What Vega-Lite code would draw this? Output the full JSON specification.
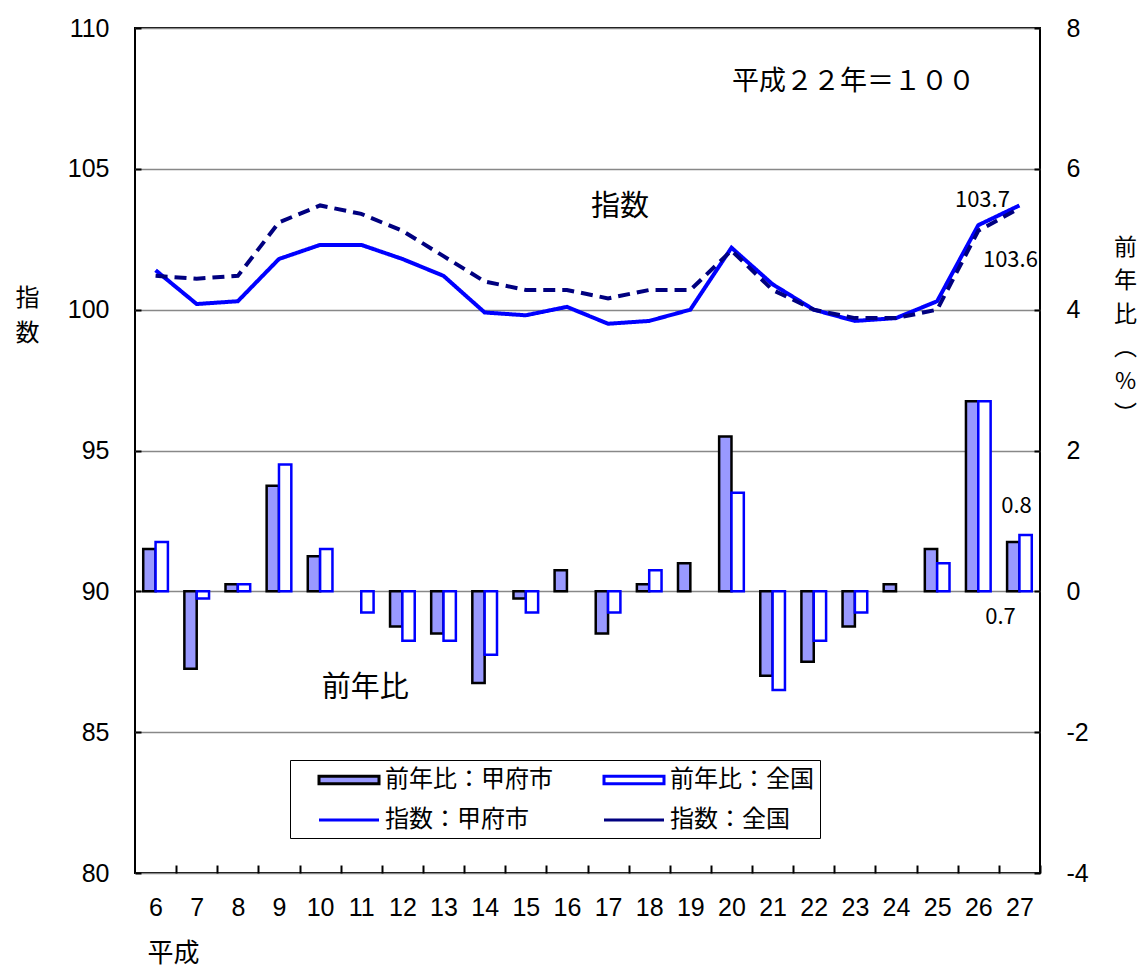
{
  "$schema": "https://vega.github.io/schema/vega-lite/v6.json",
  "width": 905,
  "height": 845,
  "autosize": {"type": "none"},
  "padding": {"left": 135, "top": 28, "right": 101, "bottom": 99},
  "background": "white",
  "config": {
    "view": {"stroke": "black", "strokeWidth": 2},
    "font": "Noto Sans CJK JP"
  },
  "datasets": {
    "pct": [
      {"cat": 6, "series": "前年比：甲府市", "pct": 0.6}, {"cat": 6, "series": "前年比：全国", "pct": 0.7},
      {"cat": 7, "series": "前年比：甲府市", "pct": -1.1}, {"cat": 7, "series": "前年比：全国", "pct": -0.1},
      {"cat": 8, "series": "前年比：甲府市", "pct": 0.1}, {"cat": 8, "series": "前年比：全国", "pct": 0.1},
      {"cat": 9, "series": "前年比：甲府市", "pct": 1.5}, {"cat": 9, "series": "前年比：全国", "pct": 1.8},
      {"cat": 10, "series": "前年比：甲府市", "pct": 0.5}, {"cat": 10, "series": "前年比：全国", "pct": 0.6},
      {"cat": 11, "series": "前年比：甲府市", "pct": 0.0}, {"cat": 11, "series": "前年比：全国", "pct": -0.3},
      {"cat": 12, "series": "前年比：甲府市", "pct": -0.5}, {"cat": 12, "series": "前年比：全国", "pct": -0.7},
      {"cat": 13, "series": "前年比：甲府市", "pct": -0.6}, {"cat": 13, "series": "前年比：全国", "pct": -0.7},
      {"cat": 14, "series": "前年比：甲府市", "pct": -1.3}, {"cat": 14, "series": "前年比：全国", "pct": -0.9},
      {"cat": 15, "series": "前年比：甲府市", "pct": -0.1}, {"cat": 15, "series": "前年比：全国", "pct": -0.3},
      {"cat": 16, "series": "前年比：甲府市", "pct": 0.3}, {"cat": 16, "series": "前年比：全国", "pct": 0.0},
      {"cat": 17, "series": "前年比：甲府市", "pct": -0.6}, {"cat": 17, "series": "前年比：全国", "pct": -0.3},
      {"cat": 18, "series": "前年比：甲府市", "pct": 0.1}, {"cat": 18, "series": "前年比：全国", "pct": 0.3},
      {"cat": 19, "series": "前年比：甲府市", "pct": 0.4}, {"cat": 19, "series": "前年比：全国", "pct": 0.0},
      {"cat": 20, "series": "前年比：甲府市", "pct": 2.2}, {"cat": 20, "series": "前年比：全国", "pct": 1.4},
      {"cat": 21, "series": "前年比：甲府市", "pct": -1.2}, {"cat": 21, "series": "前年比：全国", "pct": -1.4},
      {"cat": 22, "series": "前年比：甲府市", "pct": -1.0}, {"cat": 22, "series": "前年比：全国", "pct": -0.7},
      {"cat": 23, "series": "前年比：甲府市", "pct": -0.5}, {"cat": 23, "series": "前年比：全国", "pct": -0.3},
      {"cat": 24, "series": "前年比：甲府市", "pct": 0.1}, {"cat": 24, "series": "前年比：全国", "pct": 0.0},
      {"cat": 25, "series": "前年比：甲府市", "pct": 0.6}, {"cat": 25, "series": "前年比：全国", "pct": 0.4},
      {"cat": 26, "series": "前年比：甲府市", "pct": 2.7}, {"cat": 26, "series": "前年比：全国", "pct": 2.7},
      {"cat": 27, "series": "前年比：甲府市", "pct": 0.7}, {"cat": 27, "series": "前年比：全国", "pct": 0.8}
    ],
    "idx": [
      {"cat": 6, "series": "指数：甲府市", "idx": 101.4}, {"cat": 7, "series": "指数：甲府市", "idx": 100.2},
      {"cat": 8, "series": "指数：甲府市", "idx": 100.3}, {"cat": 9, "series": "指数：甲府市", "idx": 101.8},
      {"cat": 10, "series": "指数：甲府市", "idx": 102.3}, {"cat": 11, "series": "指数：甲府市", "idx": 102.3},
      {"cat": 12, "series": "指数：甲府市", "idx": 101.8}, {"cat": 13, "series": "指数：甲府市", "idx": 101.2},
      {"cat": 14, "series": "指数：甲府市", "idx": 99.9}, {"cat": 15, "series": "指数：甲府市", "idx": 99.8},
      {"cat": 16, "series": "指数：甲府市", "idx": 100.1}, {"cat": 17, "series": "指数：甲府市", "idx": 99.5},
      {"cat": 18, "series": "指数：甲府市", "idx": 99.6}, {"cat": 19, "series": "指数：甲府市", "idx": 100.0},
      {"cat": 20, "series": "指数：甲府市", "idx": 102.2}, {"cat": 21, "series": "指数：甲府市", "idx": 100.9},
      {"cat": 22, "series": "指数：甲府市", "idx": 100.0}, {"cat": 23, "series": "指数：甲府市", "idx": 99.6},
      {"cat": 24, "series": "指数：甲府市", "idx": 99.7}, {"cat": 25, "series": "指数：甲府市", "idx": 100.3},
      {"cat": 26, "series": "指数：甲府市", "idx": 103.0}, {"cat": 27, "series": "指数：甲府市", "idx": 103.7},
      {"cat": 6, "series": "指数：全国", "idx": 101.2}, {"cat": 7, "series": "指数：全国", "idx": 101.1},
      {"cat": 8, "series": "指数：全国", "idx": 101.2}, {"cat": 9, "series": "指数：全国", "idx": 103.1},
      {"cat": 10, "series": "指数：全国", "idx": 103.7}, {"cat": 11, "series": "指数：全国", "idx": 103.4},
      {"cat": 12, "series": "指数：全国", "idx": 102.8}, {"cat": 13, "series": "指数：全国", "idx": 101.9},
      {"cat": 14, "series": "指数：全国", "idx": 101.0}, {"cat": 15, "series": "指数：全国", "idx": 100.7},
      {"cat": 16, "series": "指数：全国", "idx": 100.7}, {"cat": 17, "series": "指数：全国", "idx": 100.4},
      {"cat": 18, "series": "指数：全国", "idx": 100.7}, {"cat": 19, "series": "指数：全国", "idx": 100.7},
      {"cat": 20, "series": "指数：全国", "idx": 102.1}, {"cat": 21, "series": "指数：全国", "idx": 100.7},
      {"cat": 22, "series": "指数：全国", "idx": 100.0}, {"cat": 23, "series": "指数：全国", "idx": 99.7},
      {"cat": 24, "series": "指数：全国", "idx": 99.7}, {"cat": 25, "series": "指数：全国", "idx": 100.0},
      {"cat": 26, "series": "指数：全国", "idx": 102.8}, {"cat": 27, "series": "指数：全国", "idx": 103.6}
    ]
  },
  "layer": [
    {
      "data": {"name": "pct"},
      "mark": {"type": "bar", "strokeWidth": 2.5},
      "encoding": {
        "x": {
          "field": "cat", "type": "ordinal", "title": "平成",
          "scale": {"domain": [6,7,8,9,10,11,12,13,14,15,16,17,18,19,20,21,22,23,24,25,26,27], "paddingInner": 0.4, "paddingOuter": 0.2},
          "axis": {
            "title": "平成", "titleFont": "Noto Sans CJK JP", "titleFontSize": 26, "titleFontWeight": "normal",
            "titleColor": "black", "titleX": 38, "titleY": 88, "titleAlign": "center", "titleBaseline": "middle",
            "labelFont": "Liberation Sans", "labelFontSize": 25, "labelColor": "black",
            "labelAngle": 0, "labelPadding": 22, "offset": -8,
            "tickBand": "center", "tickOffset": 20.57, "labelOffset": -20.57,
            "tickSize": 8, "tickWidth": 2, "tickColor": "black", "domain": false, "grid": false
          }
        },
        "xOffset": {"field": "series", "type": "nominal", "scale": {"domain": ["前年比：甲府市", "前年比：全国"], "padding": 0}},
        "y": {
          "field": "pct", "type": "quantitative",
          "scale": {"domain": [-4, 8], "nice": false},
          "axis": {
            "orient": "right", "values": [-4, -2, 0, 2, 4, 6, 8], "offset": -6,
            "labelExpr": "datum.value < 0 ? '-' + abs(datum.value) : '' + datum.value",
            "title": ["前", "年", "比", "︵", "%", "︶"], "titleAngle": 0, "titleX": 91, "titleY": 208,
            "titleAlign": "center", "titleBaseline": "top", "titleLineHeight": 33.5,
            "titleFont": "Noto Sans CJK JP", "titleFontSize": 23, "titleFontWeight": "normal", "titleColor": "black",
            "labelFont": "Liberation Sans", "labelFontSize": 25, "labelColor": "black",
            "labelPadding": 26, "tickSize": 6, "tickWidth": 2, "tickColor": "black",
            "domain": false, "grid": false
          }
        },
        "color": {
          "field": "series", "type": "nominal",
          "scale": {"domain": ["指数：甲府市", "指数：全国", "前年比：甲府市", "前年比：全国"], "range": ["#0000FF", "#000080", "#9999FF", "#FFFFFF"]},
          "legend": null
        },
        "stroke": {"condition": [{"test": "datum.pct === 0", "value": "transparent"}, {"test": "datum.series === '前年比：全国'", "value": "#0000FF"}], "value": "#000000"}
      }
    },
    {
      "data": {"name": "idx"},
      "mark": {"type": "line", "strokeWidth": 4},
      "encoding": {
        "x": {
          "field": "cat", "type": "ordinal", "title": "平成",
          "scale": {"domain": [6,7,8,9,10,11,12,13,14,15,16,17,18,19,20,21,22,23,24,25,26,27], "paddingInner": 0.4, "paddingOuter": 0.2}
        },
        "y": {
          "field": "idx", "type": "quantitative",
          "scale": {"domain": [80, 110], "nice": false, "zero": false},
          "axis": {
            "orient": "left", "values": [80, 85, 90, 95, 100, 105, 110], "offset": -6,
            "title": ["指", "数"], "titleAngle": 0, "titleX": -114, "titleY": 258,
            "titleAlign": "center", "titleBaseline": "top", "titleLineHeight": 35,
            "titleFont": "Noto Sans CJK JP", "titleFontSize": 24, "titleFontWeight": "normal", "titleColor": "black",
            "labelFont": "Liberation Sans", "labelFontSize": 25, "labelColor": "black",
            "labelPadding": 26, "tickSize": 6, "tickWidth": 2, "tickColor": "black",
            "domain": false, "grid": true, "gridColor": "#888888", "gridWidth": 1.5
          }
        },
        "color": {
          "field": "series", "type": "nominal",
          "scale": {"domain": ["指数：甲府市", "指数：全国", "前年比：甲府市", "前年比：全国"], "range": ["#0000FF", "#000080", "#9999FF", "#FFFFFF"]},
          "legend": null
        },
        "strokeDash": {
          "field": "series", "type": "nominal",
          "scale": {"domain": ["指数：甲府市", "指数：全国"], "range": [[1, 0], [12, 7]]},
          "legend": null
        }
      }
    },
    {
      "data": {"values": [{"series": "前年比：甲府市", "v": null}, {"series": "前年比：全国", "v": null}, {"series": "指数：甲府市", "v": null}, {"series": "指数：全国", "v": null}]},
      "mark": {
        "type": "point", "filled": true,
        "fill": {"expr": "datum.value === '前年比：甲府市' ? '#9999FF' : datum.value === '前年比：全国' ? '#FFFFFF' : 'transparent'"},
        "stroke": {"expr": "datum.value === '前年比：甲府市' ? '#000000' : datum.value === '指数：全国' ? '#000080' : '#0000FF'"},
        "strokeWidth": {"expr": "datum.value === '前年比：甲府市' || datum.value === '前年比：全国' ? 2.5 : 4"},
        "strokeDash": {"expr": "datum.value === '指数：全国' ? [8, 4] : [1, 0]"}
      },
      "encoding": {
        "y": {"field": "v", "type": "quantitative", "axis": null},
        "shape": {
          "field": "series", "type": "nominal",
          "scale": {"domain": ["前年比：甲府市", "指数：甲府市", "前年比：全国", "指数：全国"], "range": ["M-2.4,-0.3H2.4V0.3H-2.4Z", "M-2.4,0H2.4", "M-2.4,-0.3H2.4V0.3H-2.4Z", "M-2.4,0H2.4"]},
          "legend": {
            "title": null, "orient": "none", "legendX": 155, "legendY": 732, "columns": 2,
            "fillColor": "#FFFFFF", "strokeColor": "#000000", "padding": 6,
            "labelFont": "Noto Sans CJK JP", "labelFontSize": 24, "labelColor": "#000000", "labelLimit": 400,
            "symbolSize": 625, "symbolOffset": 39, "labelOffset": 22, "columnPadding": 28, "rowPadding": 14,
            "symbolOpacity": 1, "symbolStrokeWidth": 3, "gridAlign": "all"
          }
        }
      }
    },
    {
      "data": {"values": [{"cat": 27, "pct": 0.8, "label": "0.8"}]},
      "mark": {"type": "text", "font": "Noto Sans CJK JP", "fontSize": 22, "color": "black", "dx": -3, "dy": -29, "baseline": "middle", "align": "center"},
      "encoding": {
        "x": {"field": "cat", "type": "ordinal", "title": "平成", "scale": {"domain": [6,7,8,9,10,11,12,13,14,15,16,17,18,19,20,21,22,23,24,25,26,27], "paddingInner": 0.4, "paddingOuter": 0.2}},
        "y": {"field": "pct", "type": "quantitative", "scale": {"domain": [-4, 8], "nice": false}, "axis": null},
        "text": {"field": "label"}
      }
    },
    {
      "data": {"values": [{"cat": 27, "pct": 0.7, "label": "0.7"}]},
      "mark": {"type": "text", "font": "Noto Sans CJK JP", "fontSize": 22, "color": "black", "dx": -19, "dy": 75, "baseline": "middle", "align": "center"},
      "encoding": {
        "x": {"field": "cat", "type": "ordinal", "title": "平成", "scale": {"domain": [6,7,8,9,10,11,12,13,14,15,16,17,18,19,20,21,22,23,24,25,26,27], "paddingInner": 0.4, "paddingOuter": 0.2}},
        "y": {"field": "pct", "type": "quantitative", "scale": {"domain": [-4, 8], "nice": false}, "axis": null},
        "text": {"field": "label"}
      }
    },
    {
      "data": {"values": [{"cat": 11, "pct": -1.4, "label": "前年比"}]},
      "mark": {"type": "text", "font": "Noto Sans CJK JP", "fontSize": 29, "color": "black", "dx": 4, "dy": -2, "baseline": "middle", "align": "center"},
      "encoding": {
        "x": {"field": "cat", "type": "ordinal", "title": "平成", "scale": {"domain": [6,7,8,9,10,11,12,13,14,15,16,17,18,19,20,21,22,23,24,25,26,27], "paddingInner": 0.4, "paddingOuter": 0.2}},
        "y": {"field": "pct", "type": "quantitative", "scale": {"domain": [-4, 8], "nice": false}, "axis": null},
        "text": {"field": "label"}
      }
    },
    {
      "data": {"values": [{"cat": 27, "idx": 103.7, "label": "103.7"}]},
      "mark": {"type": "text", "font": "Noto Sans CJK JP", "fontSize": 22, "color": "black", "dx": -37, "dy": -5, "baseline": "middle", "align": "center"},
      "encoding": {
        "x": {"field": "cat", "type": "ordinal", "title": "平成", "scale": {"domain": [6,7,8,9,10,11,12,13,14,15,16,17,18,19,20,21,22,23,24,25,26,27], "paddingInner": 0.4, "paddingOuter": 0.2}},
        "y": {"field": "idx", "type": "quantitative", "scale": {"domain": [80, 110], "nice": false, "zero": false}, "axis": null},
        "text": {"field": "label"}
      }
    },
    {
      "data": {"values": [{"cat": 27, "idx": 103.6, "label": "103.6"}]},
      "mark": {"type": "text", "font": "Noto Sans CJK JP", "fontSize": 22, "color": "black", "dx": -9, "dy": 52, "baseline": "middle", "align": "center"},
      "encoding": {
        "x": {"field": "cat", "type": "ordinal", "title": "平成", "scale": {"domain": [6,7,8,9,10,11,12,13,14,15,16,17,18,19,20,21,22,23,24,25,26,27], "paddingInner": 0.4, "paddingOuter": 0.2}},
        "y": {"field": "idx", "type": "quantitative", "scale": {"domain": [80, 110], "nice": false, "zero": false}, "axis": null},
        "text": {"field": "label"}
      }
    },
    {
      "data": {"values": [{"cat": 17, "idx": 103.6, "label": "指数"}]},
      "mark": {"type": "text", "font": "Noto Sans CJK JP", "fontSize": 29, "color": "black", "dx": 12, "dy": -1, "baseline": "middle", "align": "center"},
      "encoding": {
        "x": {"field": "cat", "type": "ordinal", "title": "平成", "scale": {"domain": [6,7,8,9,10,11,12,13,14,15,16,17,18,19,20,21,22,23,24,25,26,27], "paddingInner": 0.4, "paddingOuter": 0.2}},
        "y": {"field": "idx", "type": "quantitative", "scale": {"domain": [80, 110], "nice": false, "zero": false}, "axis": null},
        "text": {"field": "label"}
      }
    },
    {
      "data": {"values": [{"cat": 23, "idx": 108, "label": "平成２２年＝１００"}]},
      "mark": {"type": "text", "font": "Noto Sans CJK JP", "fontSize": 27, "color": "black", "dx": -1.5, "dy": -2, "baseline": "middle", "align": "center"},
      "encoding": {
        "x": {"field": "cat", "type": "ordinal", "title": "平成", "scale": {"domain": [6,7,8,9,10,11,12,13,14,15,16,17,18,19,20,21,22,23,24,25,26,27], "paddingInner": 0.4, "paddingOuter": 0.2}},
        "y": {"field": "idx", "type": "quantitative", "scale": {"domain": [80, 110], "nice": false, "zero": false}, "axis": null},
        "text": {"field": "label"}
      }
    }
  ],
  "resolve": {"scale": {"y": "independent"}}
}
